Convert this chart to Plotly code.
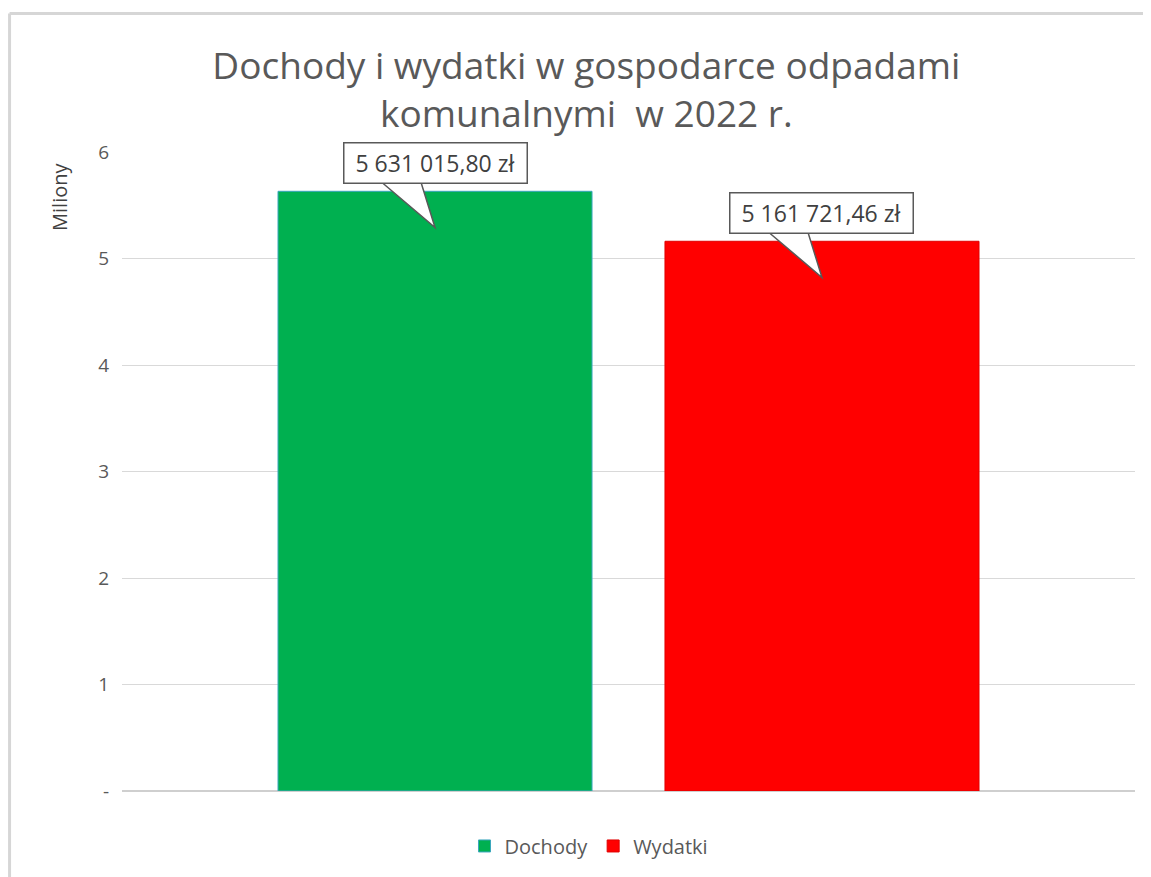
import plotly.graph_objects as go

# ---- data ----
series_names = ["Dochody", "Wydatki"]
series_values = [5631015.80, 5161721.46]   # zł
series_colors = ["#00B050", "#FF0000"]
edge_colors = ["#3aa6bd", "#e00000"]
tick_vals = [0, 1, 2, 3, 4, 5, 6]
tick_text = ["-", "1", "2", "3", "4", "5", "6"]
title_text = "Dochody i wydatki w gospodarce odpadami<br>komunalnymi  w 2022 r."
axis_unit_label = "Miliony"

FONT = "Open Sans"
bar_width = 0.31
bar_offsets = [-0.346, 0.036]


def fmt_pl(v):
    s = f"{v:,.2f}"
    s = s.replace(",", " ").replace(".", ",")
    return s + " zł"


fig = go.Figure()
for name, val, col, ec, off in zip(series_names, series_values, series_colors, edge_colors, bar_offsets):
    fig.add_trace(go.Bar(
        name=name, x=[0], y=[val / 1e6], width=[bar_width], offset=[off],
        marker=dict(color=col, line=dict(color=ec, width=1)),
        hoverinfo="skip",
    ))

# callouts (box + wedge pointer) anchored to each bar top
shapes = []
annotations = []
for val, off in zip(series_values, bar_offsets):
    top = val / 1e6
    cx = off + bar_width / 2
    path = (f"M {cx - 0.057} {top + 0.12} L {cx} {top - 0.34} "
            f"L {cx - 0.015} {top + 0.12} Z")
    shapes.append(dict(type="path", xref="x", yref="y", path=path,
                       fillcolor="white", line=dict(color="#595959", width=1.5),
                       layer="above"))
    annotations.append(dict(
        x=cx, y=top + 0.27, xref="x", yref="y", text=fmt_pl(val),
        showarrow=False, bgcolor="white", bordercolor="#595959",
        borderwidth=1.5, borderpad=2, width=178, height=35,
        font=dict(family=FONT, size=23, color="#404040"),
        xanchor="center", yanchor="middle",
    ))

annotations.append(dict(
    x=-0.061, y=0.93, xref="paper", yref="paper", text=axis_unit_label,
    textangle=-90, showarrow=False, xanchor="center", yanchor="middle",
    font=dict(family=FONT, size=20, color="#404040"),
))

# outer frame (top and left edges visible)
shapes.append(dict(type="line", xref="paper", yref="paper",
                   x0=-0.111, x1=1.1, y0=1.2168, y1=1.2168,
                   line=dict(color="#d6d6d6", width=3)))
shapes.append(dict(type="line", xref="paper", yref="paper",
                   x0=-0.111, x1=-0.111, y0=1.2168, y1=-0.2,
                   line=dict(color="#d6d6d6", width=3)))

fig.update_layout(
    width=1143, height=869,
    margin=dict(l=114, r=16, t=144, b=84),
    paper_bgcolor="white", plot_bgcolor="white",
    title=dict(text=title_text, x=0.506, xanchor="center", y=0.918, yanchor="middle",
               font=dict(family=FONT, size=37, color="#595959")),
    xaxis=dict(range=[-0.5, 0.5], showticklabels=False, showgrid=False,
               zeroline=False, fixedrange=True),
    yaxis=dict(range=[0, 6], tickvals=tick_vals, ticktext=tick_text,
               showgrid=True, gridcolor="#d9d9d9", gridwidth=1,
               zeroline=True, zerolinecolor="#cfcfcf", zerolinewidth=2,
               tickfont=dict(family=FONT, size=19, color="#595959"),
               ticks="", ticklabelstandoff=12),
    legend=dict(orientation="h", x=0.461, xanchor="center", y=-0.086, yanchor="middle",
                font=dict(family=FONT, size=20, color="#595959"),
                itemwidth=30, traceorder="normal"),
    shapes=shapes, annotations=annotations,
    barmode="overlay", showlegend=True,
)

fig.write_html("out.html")
